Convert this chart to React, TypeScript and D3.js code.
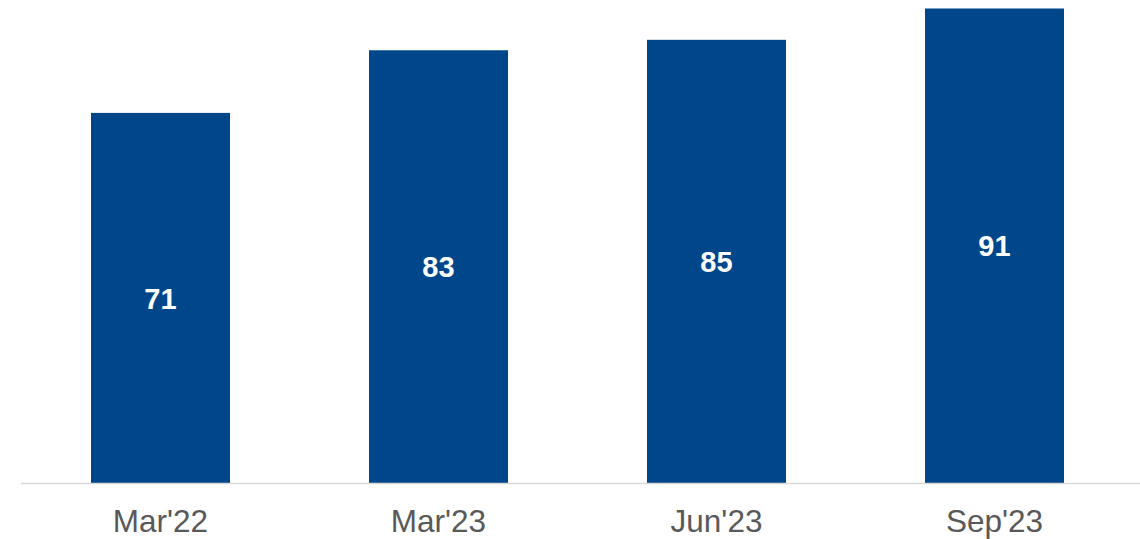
import React from "react";
import * as d3 from "d3";

const categories = ["Mar'22", "Mar'23", "Jun'23", "Sep'23"];
const values = [71, 83, 85, 91];

const W = 1140;
const H = 539;
const baseY = 483.5;

export default function App() {
  const x = d3
    .scaleBand<string>()
    .domain(categories)
    .range([21.5, 1133.5])
    .paddingInner(0.5)
    .paddingOuter(0.25);
  const y = d3.scaleLinear().domain([0, 91]).range([baseY, 8.5]);
  const font = "'Liberation Sans', Arial, sans-serif";
  return (
    <svg
      width={W}
      height={H}
      style={{ position: "absolute", left: 0, top: 0, background: "#fff" }}
    >
      {categories.map((c, i) => {
        const bx = x(c)!;
        const top = y(values[i]);
        return (
          <g key={c}>
            <rect x={bx} y={top} width={x.bandwidth()} height={baseY - top} fill="#00468B" />
            <text
              x={bx + x.bandwidth() / 2}
              y={(top + baseY) / 2}
              dy="0.36em"
              textAnchor="middle"
              fill="#fff"
              fontFamily={font}
              fontWeight="bold"
              fontSize={29}
            >
              {values[i]}
            </text>
            <text
              x={bx + x.bandwidth() / 2}
              y={531.5}
              textAnchor="middle"
              fill="#595959"
              fontFamily={font}
              fontSize={31.5}
            >
              {c}
            </text>
          </g>
        );
      })}
      <line x1={21} x2={W} y1={baseY} y2={baseY} stroke="#d9d9d9" strokeWidth={1.5} />
    </svg>
  );
}
